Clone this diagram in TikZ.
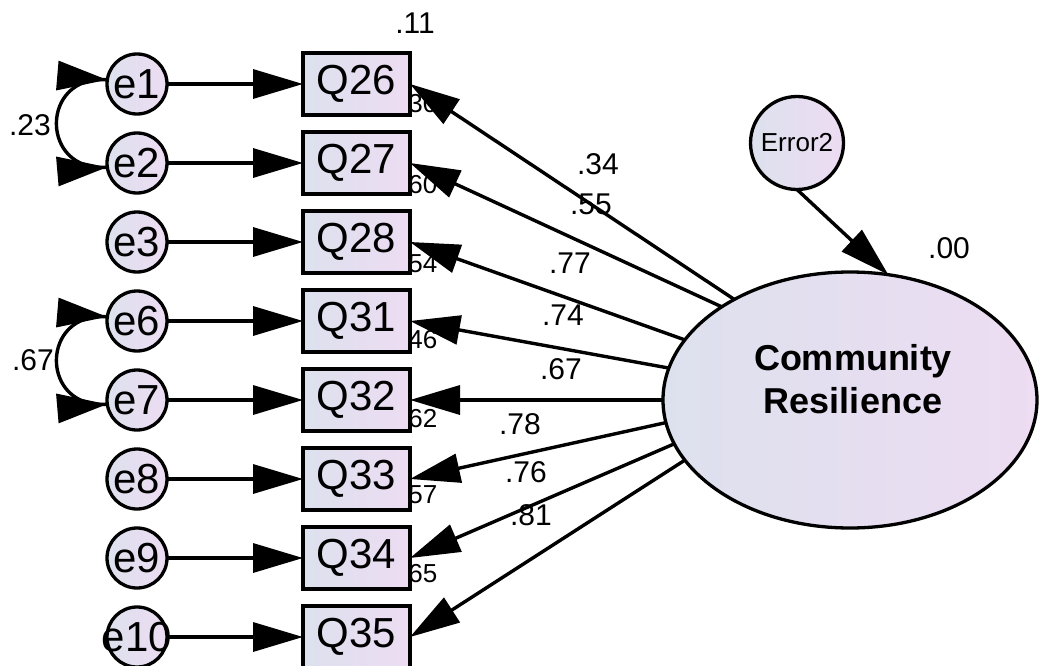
\documentclass[tikz,border=0pt]{standalone}
\usepackage{fontspec}
\setmainfont{Liberation Sans}
\usetikzlibrary{arrows.meta,shapes.geometric,decorations.markings}

\definecolor{shadeL}{HTML}{DDE1EE}
\definecolor{shadeR}{HTML}{EDDCF2}
\newcommand\zw[1]{\makebox[0pt]{#1}}

\tikzset{
  obs/.style={draw, rectangle, line width=3.5pt, minimum width=107pt, minimum height=62pt,
    inner sep=0pt, outer sep=0pt, left color=shadeL, right color=shadeR,
    font=\fontsize{42}{48}\selectfont},
  err/.style={draw, circle, line width=3.3pt, minimum size=60pt, inner sep=0pt, outer sep=0pt,
    left color=shadeL, right color=shadeR, font=\fontsize{42}{48}\selectfont},
  lat/.style={draw, ellipse, line width=3.3pt, minimum width=374pt, minimum height=256pt,
    inner sep=0pt, outer sep=0pt, left color=shadeL, right color=shadeR},
  head/.tip={Triangle[length=50pt,width=29pt]},
  regarrow/.style={line width=3.4pt, -head},
  % double-headed curve: the heads sit on the ends of the full arc
  covarrow/.style={line width=3.4pt, postaction={decorate},
    decoration={markings,
      mark=at position 0.001 with {\arrowreversed{head}},
      mark=at position 0.999 with {\arrow{head}}}},
  est/.style={inner sep=0pt, font=\fontsize{30}{36}\selectfont},
  rsq/.style={inner sep=0pt, anchor=west, font=\fontsize{26}{30}\selectfont},
}

\begin{document}
\begin{tikzpicture}[x=1pt,y=1pt]
\useasboundingbox (0,0) rectangle (1041,-666);
\fill[white] (0,0) rectangle (1041,-666);

% squared multiple correlations (partly hidden behind the boxes)
\node[rsq] (r26) at (401,-104) {.30};
\node[rsq] (r27) at (401,-185) {.60};
\node[rsq] (r28) at (401,-264) {.54};
\node[rsq] (r31) at (401,-340) {.46};
\node[rsq] (r32) at (401,-419) {.62};
\node[rsq] (r33) at (401,-495) {.57};
\node[rsq] (r34) at (401,-574) {.65};
\node[est] (r35) at (415,-23) {.11};

% error terms
\node[err] (e1)  at (137,-84)  {\zw{e1}};
\node[err] (e2)  at (137,-163) {\zw{e2}};
\node[err] (e3)  at (137,-242) {\zw{e3}};
\node[err] (e6)  at (137,-321) {\zw{e6}};
\node[err] (e7)  at (137,-400) {\zw{e7}};
\node[err] (e8)  at (137,-479) {\zw{e8}};
\node[err] (e9)  at (137,-558) {\zw{e9}};
\node[err] (e10) at (137,-637) {\zw{e10}};

% observed items
\node[obs] (Q26) at (356.5,-84)  {Q26};
\node[obs] (Q27) at (356.5,-163) {Q27};
\node[obs] (Q28) at (356.5,-242) {Q28};
\node[obs] (Q31) at (356.5,-321) {Q31};
\node[obs] (Q32) at (356.5,-400) {Q32};
\node[obs] (Q33) at (356.5,-479) {Q33};
\node[obs] (Q34) at (356.5,-558) {Q34};
\node[obs] (Q35) at (356.5,-637) {Q35};

% latent factor and its disturbance
\node[lat] (CR) at (850,-400) {};
\node[font=\fontsize{36}{43}\selectfont\bfseries, align=center, inner sep=0pt] (CRtext)
  at (853,-379) {Community\\Resilience};
\node[err, minimum size=93pt, font=\fontsize{26}{30}\selectfont] (E2) at (797,-143) {Error2};

% error paths
\foreach \e/\q in {e1/Q26, e2/Q27, e3/Q28, e6/Q31, e7/Q32, e8/Q33, e9/Q34, e10/Q35}
  \draw[regarrow] (\e.east) -- (\q.west);

% error covariances
\draw[covarrow] (e1.172) to[out=175, in=185, looseness=2.0] (e2.188);
\draw[covarrow] (e6.172) to[out=175, in=185, looseness=2.0] (e7.188);
\node[est] (c12) at (30,-125) {.23};
\node[est] (c67) at (33,-360) {.67};

% factor loadings
\draw[regarrow] (CR.139) -- (Q26.east);
\draw[regarrow] (CR.144) -- (Q27.east);
\draw[regarrow] (CR.160.5) -- (Q28.east);
\draw[regarrow] (CR.170.3) -- (Q31.east);
\draw[regarrow] (CR.180) -- (Q32.east);
\draw[regarrow] (CR.187.6) -- (Q33.east);
\draw[regarrow] (CR.194.2) -- (Q34.east);
\draw[regarrow] (CR.200) -- (Q35.east);
\draw[regarrow] (E2.south) -- (CR.73);

% loading estimates
\node[est] (l26) at (598,-164) {.34};
\node[est] (l27) at (591,-204) {.55};
\node[est] (l28) at (570,-263) {.77};
\node[est] (l31) at (563,-315) {.74};
\node[est] (l32) at (561,-369) {.67};
\node[est] (l33) at (520,-424) {.78};
\node[est] (l34) at (526,-472) {.76};
\node[est] (l35) at (531,-515) {.81};
\node[est] (rCR) at (949,-248) {.00};
\end{tikzpicture}
\end{document}
